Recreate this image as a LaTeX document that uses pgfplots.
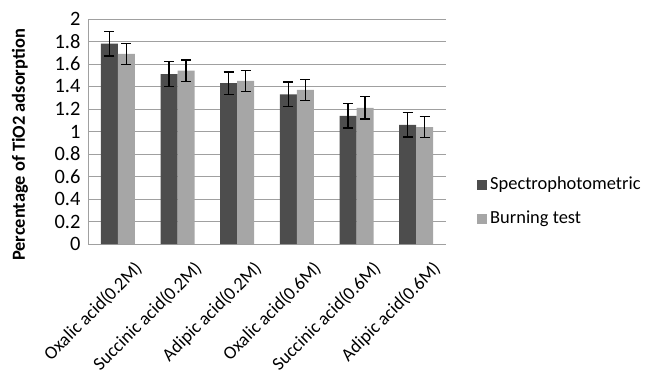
\documentclass[border=0pt]{standalone}
\usepackage{pgfplots}
\pgfplotsset{compat=1.18}
\usepackage{fontspec}
\setmainfont{Carlito}
\definecolor{darkbar}{HTML}{4D4D4D}
\definecolor{lightbar}{HTML}{A6A6A6}
\definecolor{gridc}{HTML}{A0A0A0}
\begin{document}
\begin{tikzpicture}[x=1bp,y=1bp]
\path[use as bounding box] (0,0) rectangle (645,381);
\begin{axis}[
  at={(88bp,137bp)}, anchor=south west,
  scale only axis, width=358bp, height=225bp,
  ymin=0, ymax=2, ytick={0,0.2,...,2.01},
  xmin=-0.5, xmax=5.5,
  xtick={0,1,2,3,4,5},
  xticklabels={Oxalic acid(0.2M),Succinic acid(0.2M),Adipic acid(0.2M),Oxalic acid(0.6M),Succinic acid(0.6M),Adipic acid(0.6M)},
  x tick label style={rotate=45, anchor=north east, inner sep=0bp, yshift=-22bp, font=\fontsize{18.5}{19}\selectfont},
  y tick label style={font=\fontsize{20.5}{21}\selectfont, /pgf/number format/fixed, /pgf/number format/precision=1, xshift=-4bp},
  /pgf/number format/assume math mode=true,
  major tick length=0pt,
  ymajorgrids, grid style={gridc, line width=0.8bp},
  axis line style={gridc, line width=0.8bp},
  axis x line*=bottom, axis y line*=left,
  ylabel={\textbf{Percentage of TiO2 adsorption}},
  ylabel style={font=\fontsize{18.5}{19}\selectfont, at={(axis description cs:-0.19,0.44)}, anchor=center},
  ybar=0pt, bar width=17bp,
  legend style={at={(1.0866,0.30)}, anchor=north west, draw=none, fill=none,
    font=\fontsize{18.5}{19}\selectfont, row sep=17bp, inner sep=0pt,
    nodes={inner sep=0pt, text height=13bp, text depth=4bp},
    /tikz/every odd column/.append style={column sep=3bp}},
  legend cell align=left,
  legend image code/.code={\fill[#1] (0bp,-5bp) rectangle (10bp,5bp);},
  error bars/y dir=both, error bars/y explicit,
  error bars/error bar style={black, line width=1.3bp},
  error bars/error mark options={black, rotate=90, mark size=5bp, line width=1.3bp},
]
\addplot[fill=darkbar, draw=none] coordinates {
  (0,1.78) +- (0,0.11)
  (1,1.51) +- (0,0.11)
  (2,1.43) +- (0,0.10)
  (3,1.33) +- (0,0.11)
  (4,1.14) +- (0,0.11)
  (5,1.06) +- (0,0.11)
};
\addplot[fill=lightbar, draw=none] coordinates {
  (0,1.69) +- (0,0.095)
  (1,1.54) +- (0,0.095)
  (2,1.45) +- (0,0.095)
  (3,1.37) +- (0,0.095)
  (4,1.21) +- (0,0.10)
  (5,1.04) +- (0,0.095)
};
\legend{Spectrophotometric,Burning test}
\end{axis}
\end{tikzpicture}
\end{document}
